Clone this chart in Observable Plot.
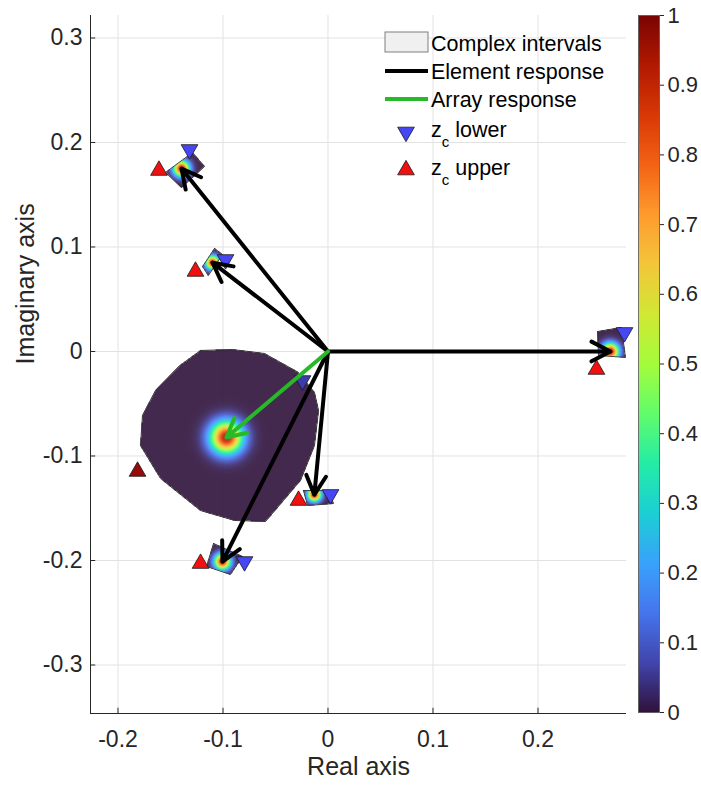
<!DOCTYPE html>
<html><head><meta charset="utf-8">
<script src="https://cdn.jsdelivr.net/npm/d3@7"></script>
<script src="https://cdn.jsdelivr.net/npm/@observablehq/plot@0.6"></script>
<style>
html,body{margin:0;padding:0;background:#fff;}
#chart{position:relative;width:701px;height:785px;font-family:"Liberation Sans",Arial,sans-serif;}
#chart > *{position:absolute;top:0;}
</style></head><body><div id="chart"></div>
<script>
// ---------- data ----------
const xTicks = [-0.2, -0.1, 0, 0.1, 0.2];
const yTicks = [-0.3, -0.2, -0.1, 0, 0.1, 0.2, 0.3];
const cbTicks = [0, 0.1, 0.2, 0.3, 0.4, 0.5, 0.6, 0.7, 0.8, 0.9, 1];
const xDomain = [-0.2262, 0.2843];
const yDomain = [-0.3464, 0.3215];

// element responses (arrow tips)
const elemRe = [-0.1395, -0.110, 0.269, -0.013, -0.1005];
const elemIm = [0.175, 0.085, 0.0, -0.137, -0.201];
// array response
const arrRe = [-0.0967];
const arrIm = [-0.0823];

// z_c lower / upper markers for elements
const lowerRe = [-0.1319, -0.0976, 0.2824, 0.0024, -0.0795];
const lowerIm = [0.1933, 0.0880, 0.0182, -0.1368, -0.2010];
const upperRe = [-0.1610, -0.1262, 0.2557, -0.0281, -0.1214];
const upperIm = [0.1732, 0.0766, -0.0172, -0.1426, -0.2029];
// z_c lower / upper markers for the array
const arrLowerRe = [-0.0243], arrLowerIm = [-0.0278];
const arrUpperRe = [-0.1814], arrUpperIm = [-0.1148];

// complex interval outlines [re, im]
const intervalElem1 = [[-0.1290, 0.1904], [-0.1176, 0.1770], [-0.1395, 0.1569], [-0.1548, 0.1713]];
const intervalElem2 = [[-0.1081, 0.0986], [-0.1005, 0.0928], [-0.1140, 0.0727], [-0.1195, 0.0813]];
const intervalElem3 = [[0.2567, 0.0191], [0.2795, 0.0230], [0.2833, -0.0057], [0.2576, -0.0038]];
const intervalElem4 = [[-0.0233, -0.1330], [0.0005, -0.1330], [0.0052, -0.1455], [-0.0195, -0.1474]];
const intervalElem5 = [[-0.1090, -0.1837], [-0.0814, -0.1962], [-0.0929, -0.2134], [-0.1157, -0.2057]];
const intervalArray = [
  [-0.1214, 0.0010], [-0.0910, 0.0019], [-0.0605, -0.0019], [-0.0281, -0.0201],
  [-0.0129, -0.0392], [-0.0090, -0.0565], [-0.0129, -0.0900], [-0.0262, -0.1234],
  [-0.0595, -0.1627], [-0.0890, -0.1617], [-0.1214, -0.1522], [-0.1595, -0.1215],
  [-0.1786, -0.0900], [-0.1767, -0.0612], [-0.1643, -0.0373], [-0.1424, -0.0144]
];
// spread of the density inside each interval
const elemSpread = [0.0052, 0.0044, 0.0055, 0.0044, 0.0052];
const arrSpread = [0.0105];
const peakValue = [0.95];

// MATLAB turbo colormap stops
const turboColors = ["#30123b","#4145ab","#4675ed","#39a2fc","#1bcfd4","#24eca6","#61fc6c","#a4fc3b","#d1e834","#f3c63a","#fe9b2d","#f36315","#d93806","#b11901","#7a0403"];

// ---------- build tables ----------
const intervals = [
  {poly: intervalArray, cx: arrRe[0], cy: arrIm[0], s: arrSpread[0]},
  ...[intervalElem1, intervalElem2, intervalElem3, intervalElem4, intervalElem5].map((p, i) => ({poly: p, cx: elemRe[i], cy: elemIm[i], s: elemSpread[i]}))
];
const outlineRows = intervals.flatMap((iv, k) => [...iv.poly, iv.poly[0]].map(([re, im]) => ({id: k, re, im})));
const elemRows = elemRe.map((re, i) => ({re, im: elemIm[i]}));
const arrRows = arrRe.map((re, i) => ({re, im: arrIm[i]}));
const pts = (R, I) => R.map((re, i) => ({re, im: I[i]}));

function heat(x, y) {
  for (const iv of intervals) {
    if (d3.polygonContains(iv.poly, [x, y])) {
      const d2 = (x - iv.cx) ** 2 + (y - iv.cy) ** 2;
      return peakValue[0] * Math.exp(-d2 / (2 * iv.s * iv.s));
    }
  }
  return undefined;
}

const ink = "#262626";
const font = '"Liberation Sans", Arial, sans-serif';
const colorScale = {type: "linear", domain: turboColors.map((_, i) => i / (turboColors.length - 1)), range: turboColors, clamp: true};
const X0 = xDomain[0], Y0 = yDomain[0];

const main = Plot.plot({
  width: 701, height: 785,
  marginLeft: 90, marginRight: 75, marginTop: 15, marginBottom: 72,
  x: {domain: xDomain},
  y: {domain: yDomain},
  color: colorScale,
  style: {fontFamily: font, background: "transparent", color: ink},
  marks: [
    Plot.gridX(xTicks, {stroke: "#e2e2e2", strokeOpacity: 1}),
    Plot.gridY(yTicks, {stroke: "#e2e2e2", strokeOpacity: 1}),
    Plot.raster({x1: xDomain[0], x2: xDomain[1], y1: yDomain[0], y2: yDomain[1], fill: heat, pixelSize: 1, fillOpacity: 0.9}),
    Plot.line(outlineRows, {x: "re", y: "im", z: "id", stroke: "#1e1e1e", strokeWidth: 0.8}),
    Plot.ruleX([X0], {stroke: ink, strokeWidth: 1}),
    Plot.ruleY([Y0], {stroke: ink, strokeWidth: 1}),
    Plot.ruleX(xTicks, {x: d => d, y1: Y0, y2: Y0 + 0.005, stroke: ink}),
    Plot.ruleY(yTicks, {y: d => d, x1: X0, x2: X0 + 0.005, stroke: ink}),
    Plot.axisX({ticks: xTicks, tickSize: 0, tickPadding: 17, tickFormat: d => String(d), fontSize: 23, fill: ink, label: null}),
    Plot.axisY({ticks: yTicks, tickSize: 0, tickPadding: 8, tickFormat: d => String(d), fontSize: 23, fill: ink, label: null}),
    Plot.text(["Real axis"], {frameAnchor: "bottom", dy: 61, fontSize: 25, fill: ink}),
    Plot.text(["Imaginary axis"], {frameAnchor: "left", dx: -65, rotate: -90, fontSize: 25, fill: ink}),
    Plot.dot(pts(lowerRe, lowerIm), {x: "re", y: "im", symbol: "triangle", rotate: 180, r: 6.2, fill: "#4646f5", stroke: "#1a1a1a", strokeWidth: 0.8, clip: false}),
    Plot.dot(pts(upperRe, upperIm), {x: "re", y: "im", symbol: "triangle", r: 6.2, fill: "#f01010", stroke: "#1a1a1a", strokeWidth: 0.8}),
    Plot.dot(pts(arrLowerRe, arrLowerIm), {x: "re", y: "im", symbol: "triangle", rotate: 180, r: 6.2, fill: "#3c3cac", stroke: "#1a1a1a", strokeWidth: 0.8}),
    Plot.dot(pts(arrUpperRe, arrUpperIm), {x: "re", y: "im", symbol: "triangle", r: 6.2, fill: "#960a0a", stroke: "#1a1a1a", strokeWidth: 0.8}),
    Plot.arrow(elemRows, {x1: () => 0, y1: () => 0, x2: "re", y2: "im", stroke: "black", strokeWidth: 4, headLength: 8, headAngle: 55, strokeLinecap: "round", strokeLinejoin: "round"}),
    Plot.arrow(arrRows, {x1: () => 0, y1: () => 0, x2: "re", y2: "im", stroke: "#27b927", strokeWidth: 4, headLength: 8, headAngle: 55, strokeLinecap: "round", strokeLinejoin: "round"})
  ]
});

const cb = Plot.plot({
  width: 81, height: 785,
  marginLeft: 18, marginRight: 42, marginTop: 15, marginBottom: 73,
  x: {domain: [0, 1], axis: null},
  y: {domain: [0, 1]},
  color: colorScale,
  style: {fontFamily: font, background: "transparent", color: ink},
  marks: [
    Plot.raster({x1: 0, x2: 1, y1: 0, y2: 1, fill: (x, y) => y, pixelSize: 1}),
    Plot.frame({stroke: "#555", strokeWidth: 0.8}),
    Plot.axisY({anchor: "right", ticks: cbTicks, tickSize: 4, tickPadding: 4, tickFormat: d => String(d), fontSize: 22, fill: ink, stroke: ink, label: null})
  ]
});
cb.style.left = "620px";

// ---------- legend ----------
const legendItems = ["Complex intervals", "Element response", "Array response", "lower", "upper"];
const lg = d3.create("svg").attr("width", 701).attr("height", 200).style("left", "0px").style("font-family", font).style("pointer-events", "none");
lg.append("rect").attr("x", 385).attr("y", 32).attr("width", 43).attr("height", 20).attr("fill", "#f0f0f0").attr("stroke", "#7f7f7f").attr("stroke-width", 1);
lg.append("line").attr("x1", 385).attr("x2", 428).attr("y1", 71).attr("y2", 71).attr("stroke", "black").attr("stroke-width", 4);
lg.append("line").attr("x1", 385).attr("x2", 428).attr("y1", 99).attr("y2", 99).attr("stroke", "#27b927").attr("stroke-width", 4);
lg.append("path").attr("d", d3.symbol(d3.symbolTriangle, Math.PI * 6.2 * 6.2)()).attr("transform", "translate(406,132) rotate(180)").attr("fill", "#4646f5").attr("stroke", "#1a1a1a").attr("stroke-width", 0.8);
lg.append("path").attr("d", d3.symbol(d3.symbolTriangle, Math.PI * 6.2 * 6.2)()).attr("transform", "translate(406,170)").attr("fill", "#f01010").attr("stroke", "#1a1a1a").attr("stroke-width", 0.8);
const T = (y, s) => lg.append("text").attr("x", 431).attr("y", y).attr("font-size", 21.5).attr("fill", "#000").text(s);
T(51, legendItems[0]);
T(79, legendItems[1]);
T(107, legendItems[2]);
function zc(y, word) {
  const t = lg.append("text").attr("x", 431).attr("y", y).attr("font-size", 21.5).attr("fill", "#000");
  t.append("tspan").text("z");
  t.append("tspan").attr("dy", 10).attr("font-size", 15).text("c");
  t.append("tspan").attr("dy", -10).text("\u00a0" + word);
}
zc(137, legendItems[3]);
zc(175, legendItems[4]);

const host = document.getElementById("chart");
host.append(main, cb, lg.node());
</script></body></html>
